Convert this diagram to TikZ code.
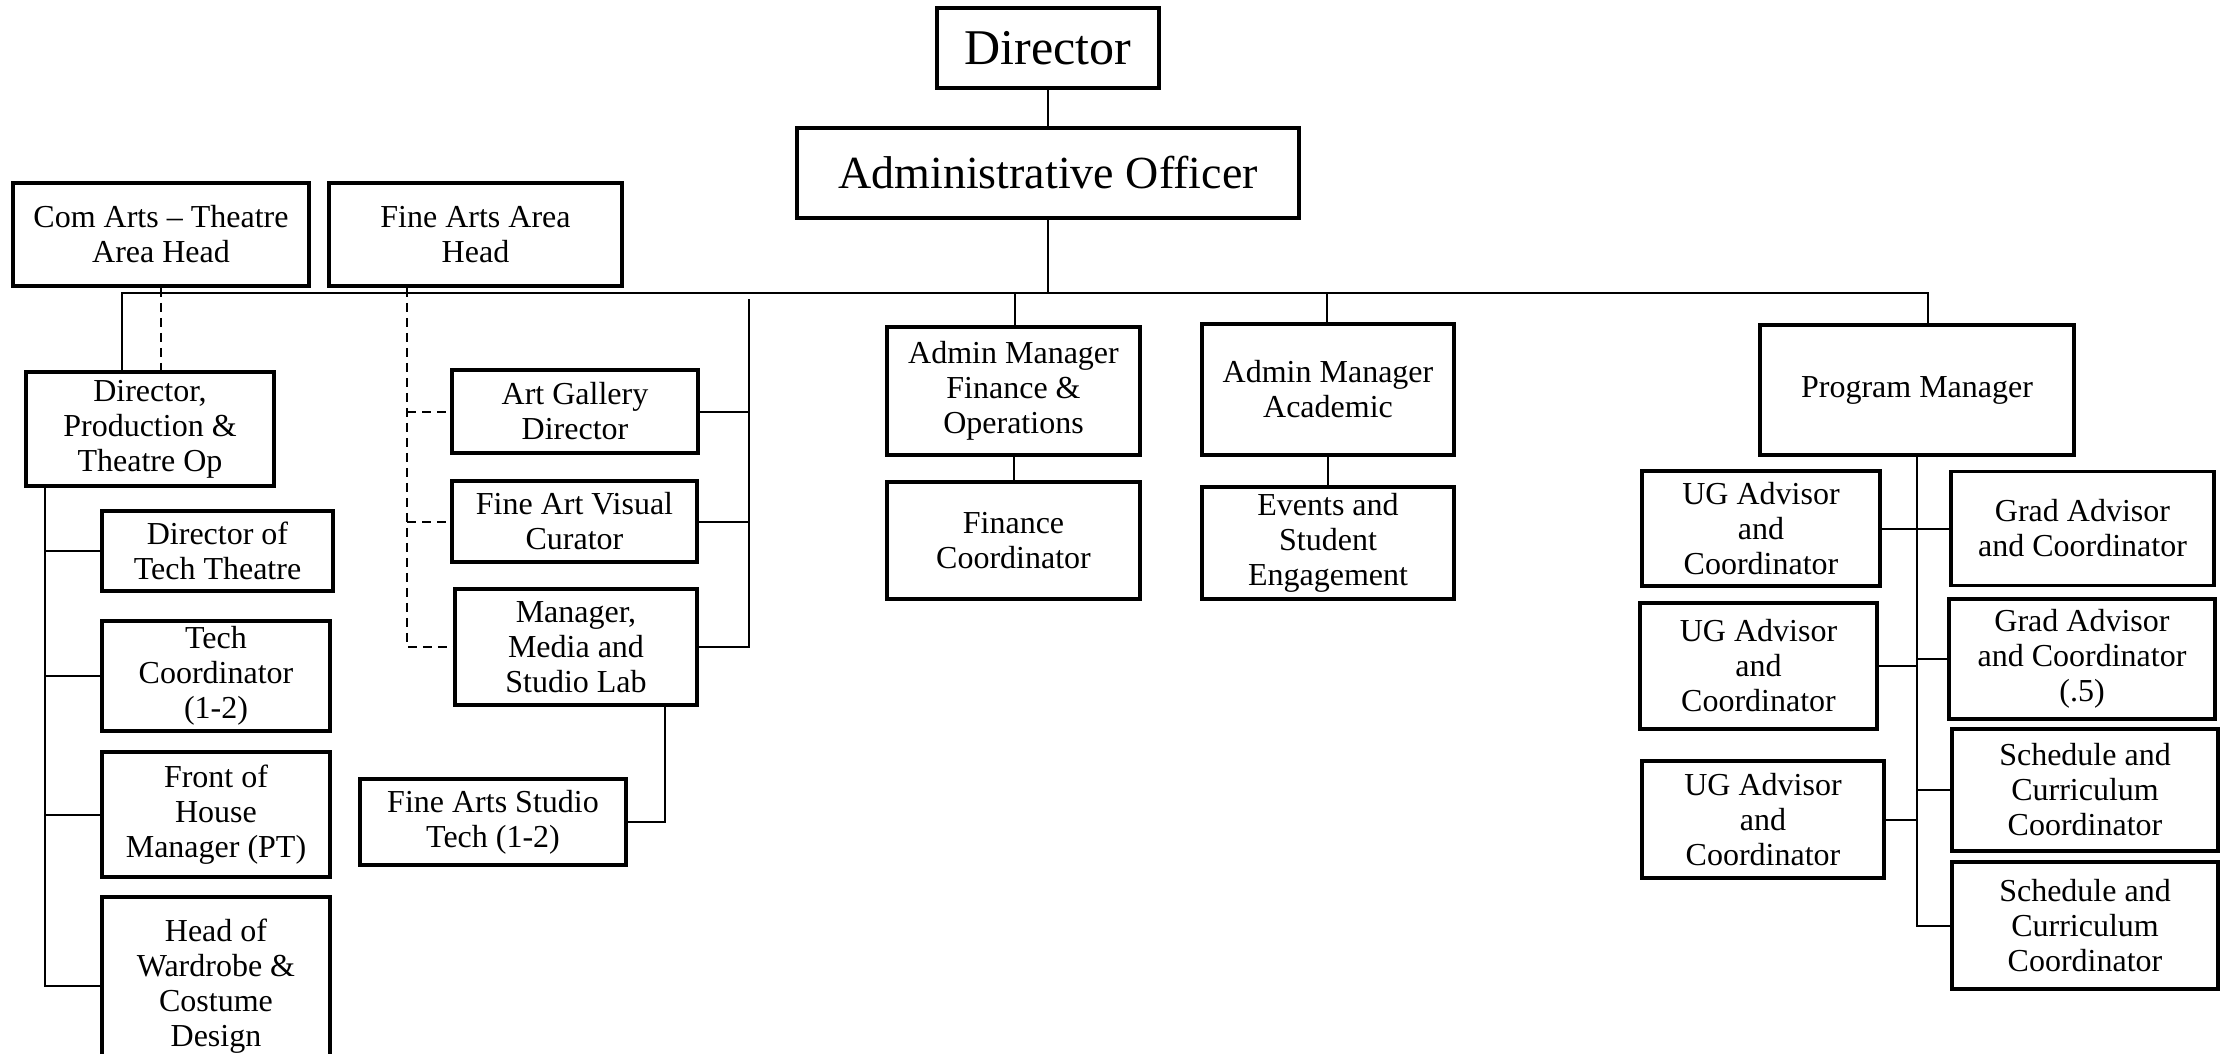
\documentclass[tikz,border=0pt]{standalone}
\usepackage{fontspec}
\setmainfont{Liberation Serif}
\begin{document}
\begin{tikzpicture}[x=1pt,y=-1pt,
  box/.style={draw, line width=3.5pt, inner sep=0pt, align=center, font=\fontsize{32}{35}\selectfont},
  conn/.style={line width=2pt},
  dconn/.style={line width=2pt, dash pattern=on 9pt off 6pt}]
\fill[white] (0,0) rectangle (2221,1053);
\useasboundingbox (0,0) rectangle (2221,1053);

% top
\node[box, minimum width=222pt, minimum height=80pt, font=\fontsize{50}{56}\selectfont] (dir) at (1048,48) {Director};
\node[box, minimum width=502pt, minimum height=90pt, font=\fontsize{46}{52}\selectfont] (ao) at (1048,173) {Administrative Officer};

% area heads
\node[box, minimum width=296pt, minimum height=103pt] (comarts) at (161,234.5) {Com Arts -- Theatre\\Area Head};
\node[box, minimum width=293pt, minimum height=103pt] (finearts) at (475.5,234.5) {Fine Arts Area\\Head};

% theatre branch
\node[box, minimum width=248pt, minimum height=114pt] (dpt) at (150,429) {Director,\\Production \&\\Theatre Op};
\node[box, minimum width=231pt, minimum height=80pt] (dtt) at (217.5,551) {Director of\\Tech Theatre};
\node[box, minimum width=228pt, minimum height=110pt] (tc) at (216,676) {Tech\\Coordinator\\(1-2)};
\node[box, minimum width=228pt, minimum height=125pt] (foh) at (216,814.5) {Front of\\House\\Manager (PT)};
\node[box, minimum width=228pt, minimum height=178pt] (how) at (216,986) {Head of\\Wardrobe \&\\Costume\\Design};

% fine arts branch
\node[box, minimum width=246pt, minimum height=83pt] (agd) at (575,411.5) {Art Gallery\\Director};
\node[box, minimum width=245pt, minimum height=81pt] (fav) at (574.5,521.5) {Fine Art Visual\\Curator};
\node[box, minimum width=242pt, minimum height=116pt] (mml) at (576,647) {Manager,\\Media and\\Studio Lab};
\node[box, minimum width=266pt, minimum height=86pt] (fast) at (493,822) {Fine Arts Studio\\Tech (1-2)};

% admin managers
\node[box, minimum width=253pt, minimum height=128pt] (amfo) at (1013.5,391) {Admin Manager\\Finance \&\\Operations};
\node[box, minimum width=253pt, minimum height=117pt] (fc) at (1013.5,540.5) {Finance\\Coordinator};
\node[box, minimum width=252pt, minimum height=131pt] (ama) at (1328,389.5) {Admin Manager\\Academic};
\node[box, minimum width=252pt, minimum height=112pt] (ese) at (1328,543) {Events and\\Student\\Engagement};

% program manager branch
\node[box, minimum width=314pt, minimum height=130pt] (pm) at (1917,390) {Program Manager};
\node[box, minimum width=238pt, minimum height=115pt] (ug1) at (1761,528.5) {UG Advisor\\and\\Coordinator};
\node[box, minimum width=263pt, minimum height=114pt] (ga1) at (2082.5,528.5) {Grad Advisor\\and Coordinator};
\node[box, minimum width=237pt, minimum height=126pt] (ug2) at (1758.5,666) {UG Advisor\\and\\Coordinator};
\node[box, minimum width=266pt, minimum height=120pt] (ga2) at (2082,659) {Grad Advisor\\and Coordinator\\(.5)};
\node[box, minimum width=242pt, minimum height=117pt] (ug3) at (1763,819.5) {UG Advisor\\and\\Coordinator};
\node[box, minimum width=266pt, minimum height=122pt] (sc1) at (2085,790) {Schedule and\\Curriculum\\Coordinator};
\node[box, minimum width=266pt, minimum height=127pt] (sc2) at (2085,925.5) {Schedule and\\Curriculum\\Coordinator};

% junction coordinates
\coordinate (busL) at (122,293);
\coordinate (busAO) at (1048,293);
\coordinate (busFO) at (1015,293);
\coordinate (busAA) at (1327,293);
\coordinate (busR) at (1928,293);
\coordinate (dptV) at (45,0);
\coordinate (faV) at (407,0);
\coordinate (frV) at (749,299);
\coordinate (mfV) at (665,0);

% main connectors
\draw[conn] (dir.south) -- (ao.north);
\draw[conn] (ao.south) -- (busAO);
\draw[conn] (busL |- dpt.north) -- (busL) -- (busR) -- (busR |- pm.north);
\draw[conn] (busFO) -- (busFO |- amfo.north);
\draw[conn] (busAA) -- (busAA |- ama.north);
\draw[conn] (amfo.south) -- (fc.north);
\draw[conn] (ama.south) -- (ese.north);

% theatre
\draw[dconn] (comarts.south) -- (comarts.south |- dpt.north);
\draw[conn] (dptV |- dpt.south) -- (dptV |- how.west) -- (how.west);
\draw[conn] (dptV |- dtt.west) -- (dtt.west);
\draw[conn] (dptV |- tc.west) -- (tc.west);
\draw[conn] (dptV |- foh.west) -- (foh.west);

% fine arts
\draw[dconn] (faV |- finearts.south) -- (faV |- mml.west) -- (mml.west);
\draw[dconn] (faV |- agd.west) -- (agd.west);
\draw[dconn] (faV |- fav.west) -- (fav.west);
\draw[conn] (frV) -- (frV |- mml.east) -- (mml.east);
\draw[conn] (frV |- agd.east) -- (agd.east);
\draw[conn] (frV |- fav.east) -- (fav.east);
\draw[conn] (mfV |- mml.south) -- (mfV |- fast.east) -- (fast.east);

% program manager
\draw[conn] (pm.south) -- (pm.south |- sc2.west) -- (sc2.west);
\draw[conn] (ug1.east) -- (ga1.west);
\draw[conn] (ug2.east) -- (pm.south |- ug2.east);
\draw[conn] (pm.south |- ga2.west) -- (ga2.west);
\draw[conn] (ug3.east) -- (pm.south |- ug3.east);
\draw[conn] (pm.south |- sc1.west) -- (sc1.west);
\end{tikzpicture}
\end{document}
